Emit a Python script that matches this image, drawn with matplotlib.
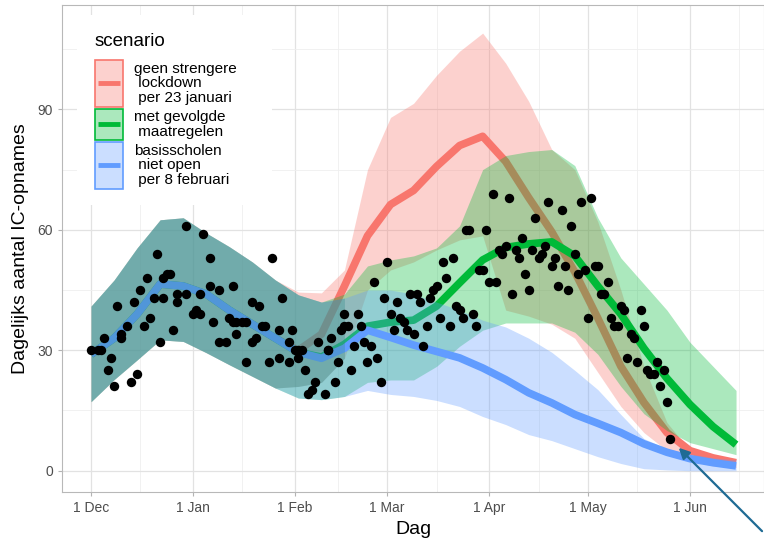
import numpy as np
import matplotlib
matplotlib.use("Agg")
import matplotlib.pyplot as plt
from matplotlib.patches import Rectangle
from matplotlib.lines import Line2D
from matplotlib.colors import to_rgba

plt.rcParams['font.family'] = ['Liberation Sans', 'DejaVu Sans']

start = np.datetime64('2020-12-01')

# waargenomen IC-opnames (dag na 1 december, aantal)
obs_day = [0, 2, 3, 4, 5, 6, 7, 8, 9, 9, 11, 12, 13, 14, 15, 16, 17, 18, 19, 20,
           21, 22, 22, 23, 24, 25, 26, 26, 29, 29, 31, 32, 33, 33, 34, 36, 36, 37, 39, 39,
           41, 42, 43, 43, 44, 44, 46, 47, 47, 49, 49, 50, 51, 52, 53, 54, 55, 57, 57, 58,
           60, 60, 61, 62, 63, 63, 64, 65, 66, 67, 68, 69, 71, 72, 72, 73, 74, 75, 76, 77,
           77, 78, 79, 80, 81, 82, 83, 84, 85, 86, 87, 88, 89, 90, 91, 92, 93, 94, 95, 96,
           97, 98, 99, 100, 101, 102, 103, 104, 105, 106, 107, 108, 109, 110, 111, 112, 113, 114, 115, 116,
           117, 118, 119, 120, 121, 122, 123, 124, 125, 126, 127, 128, 129, 130, 131, 132, 133, 134, 135, 136,
           137, 138, 139, 140, 141, 142, 143, 144, 145, 146, 147, 148, 149, 150, 151, 152, 153, 154, 155, 156,
           157, 158, 159, 160, 161, 162, 163, 164, 165, 166, 167, 168, 169, 170, 171, 172, 173, 174, 175, 176]
obs_val = [30, 30, 30, 33, 25, 28, 21, 41, 33, 34, 36, 22, 42, 24, 45, 36, 48, 38, 43, 54,
           32, 43, 48, 49, 49, 35, 42, 44, 61, 44, 39, 40, 39, 44, 59, 53, 46, 37, 45, 32,
           32, 38, 46, 37, 34, 37, 37, 27, 37, 42, 32, 33, 41, 36, 36, 27, 53, 35, 28, 43,
           27, 32, 35, 30, 28, 30, 30, 25, 19, 20, 22, 32, 19, 30, 30, 33, 22, 27, 35, 39,
           36, 36, 25, 31, 39, 36, 32, 27, 31, 47, 28, 22, 43, 52, 39, 35, 42, 38, 37, 35,
           44, 34, 44, 42, 31, 36, 43, 45, 46, 38, 52, 48, 36, 53, 41, 40, 38, 60, 60, 39,
           36, 50, 50, 60, 47, 69, 47, 55, 54, 56, 68, 44, 55, 53, 58, 49, 45, 55, 63, 53,
           54, 56, 67, 51, 53, 46, 65, 51, 45, 61, 54, 49, 67, 50, 38, 68, 51, 51, 44, 44,
           47, 38, 36, 36, 41, 40, 28, 34, 33, 27, 40, 36, 25, 24, 24, 27, 21, 25, 17, 8]

model_day = [0, 7, 14, 21, 28, 35, 42, 49, 56, 63, 70, 77, 84, 91, 98, 105, 112, 119, 126,
             133, 140, 147, 154, 161, 168, 175, 182, 189, 196]

# tot begin februari is het verloop voor alle scenario's gelijk
common_mid = [29, 33, 39, 46.5, 46, 44, 40, 36.5, 33]
common_lo = [17.2, 22.7, 27.6, 32.6, 32.2, 29.4, 26.4, 23.5, 20.6]
common_hi = [41, 47.5, 55.5, 62.5, 63, 59.2, 55.8, 52, 47.5]

red_mid = [30, 34, 46, 58.5, 66.3, 69.8, 75.8, 81, 83.3, 77, 68, 59.5, 49.5, 38, 26, 17, 9.5, 5, 3.2, 2]
red_lo = [21, 22, 28, 45, 50, 52, 55, 57.5, 58.5, 40, 38.5, 36.5, 33, 24.5, 16, 9.5, 5, 2.5, 1.2, 0.8]
red_hi = [44.5, 44.3, 50, 75, 88, 91.5, 98.5, 104.5, 109, 101.5, 92, 80, 75, 62, 45, 26, 12, 5, 3, 2]

green_mid = [29.5, 28.3, 31.5, 36, 37, 37.5, 41, 46.8, 52.5, 55.6, 56.5, 57, 53.5, 46, 39, 30.5, 23, 16.5, 11, 6.5]
green_lo = [18.1, 17.7, 18.5, 22, 22.6, 22.6, 26, 31, 35, 36.8, 36.8, 36.8, 34.5, 29, 21, 14.2, 10, 7, 5.5, 4]
green_hi = [43.8, 42, 44, 51, 52.5, 53.5, 55.5, 61, 75, 78.5, 79.5, 80, 76, 63, 53, 46.5, 40, 32, 26, 20]

blue_mid = [29.5, 28, 30.5, 35, 33.2, 31.3, 29.7, 28.1, 25.6, 22.7, 19.4, 16.9, 14, 11.8, 9.5, 6.7, 4.6, 3, 2, 1.2]
blue_lo = [18.1, 17.7, 18.5, 20, 19, 18.5, 17.5, 16, 13.5, 11.5, 9, 7.5, 5.5, 3.5, 1.8, 0.5, 0.2, 0, 0, 0]
blue_hi = [43.8, 42, 43, 45, 45, 44, 42, 40, 37.5, 35.8, 33, 29.5, 25, 20.2, 14, 8, 5.5, 4.2, 3.2, 2.7]

scenario_labels = ["geen strengere\n lockdown\n per 23 januari",
                   "met gevolgde\n maatregelen",
                   "basisscholen\n niet open\n per 8 februari"]
scenario_colors = ["#F8766D", "#00BA38", "#619CFF"]

tick_dates = ['2020-12-01', '2021-01-01', '2021-02-01', '2021-03-01', '2021-04-01', '2021-05-01', '2021-06-01']
tick_labels = ['1 Dec', '1 Jan', '1 Feb', '1 Mar', '1 Apr', '1 May', '1 Jun']
minor_dates = ['2020-12-16', '2021-01-16', '2021-02-14', '2021-03-16', '2021-04-16', '2021-05-16', '2021-06-16']

W, H = 764, 544


def to_dates(days):
    return start + np.array(days, dtype='timedelta64[D]')


def fxy(x, y):
    # pixelpositie -> figuurcoordinaten
    return x / W, 1 - y / H


fig = plt.figure(figsize=(W / 100, H / 100), dpi=100)
ax = fig.add_axes([62 / W, 52 / H, 702 / W, 487 / H])

x_model = to_dates(model_day)
scen = [(red_mid, red_lo, red_hi), (green_mid, green_lo, green_hi), (blue_mid, blue_lo, blue_hi)]
los, his = [], []
z = 1
for (mid, lo, hi), col in zip(scen, scenario_colors):
    los.append(common_lo + lo)
    his.append(common_hi + hi)
    ax.fill_between(x_model, los[-1], his[-1], color=col, alpha=0.33, lw=0, zorder=z)
    ax.plot(x_model, common_mid + mid, color=col, lw=5.5, solid_capstyle='butt', zorder=z + 1)
    z += 2

# waar alle drie de banden overlappen (fitperiode) is het vlak donkerder
ov_lo = np.maximum.reduce(los)
ov_hi = np.minimum.reduce(his)
ax.fill_between(x_model, ov_lo, ov_hi, where=(np.array(model_day) <= 84) & (ov_hi > ov_lo),
                color='#308C89', alpha=0.32, lw=0, zorder=z)

ax.scatter(to_dates(obs_day), obs_val, s=46, color='black', lw=0, zorder=z + 1)

# assen in ggplot theme_light stijl
ax.set_xlim(start - np.timedelta64(212, 'h'), start + np.timedelta64(4908, 'h'))
ax.set_ylim(-5.3, 116)
ax.set_xticks(np.array(tick_dates, dtype='datetime64[D]'))
ax.set_xticklabels(tick_labels)
ax.set_xticks(np.array(minor_dates, dtype='datetime64[D]'), minor=True)
ax.set_yticks([0, 30, 60, 90])
ax.set_yticks([15, 45, 75, 105], minor=True)
ax.grid(True, which='major', color='#e2e2e2', lw=0.9, zorder=0)
ax.grid(True, which='minor', color='#efefef', lw=0.6, zorder=0)
ax.set_axisbelow(True)
for s in ax.spines.values():
    s.set_color('#b8b8b8')
    s.set_linewidth(0.8)
ax.tick_params(which='major', length=3, color='#b3b3b3', labelsize=10, labelcolor='#4d4d4d')
ax.tick_params(which='minor', length=0)
ax.set_xlabel('Dag', fontsize=14, labelpad=4)
ax.set_ylabel('Dagelijks aantal IC-opnames', fontsize=14, labelpad=6)

# legenda zoals ggplot: wit vlak, gevulde sleutels met lijn
fig.add_artist(Rectangle(fxy(77, 205), 195 / W, 190 / H, transform=fig.transFigure,
                         facecolor='white', edgecolor='none', zorder=6))
fig.text(*fxy(95, 42), 'scenario', fontsize=13.5, va='center', ha='left', zorder=7)
top = 60
for lab, col in zip(scenario_labels, scenario_colors):
    n = lab.count('\n') + 1
    h = n * 15.6
    fig.add_artist(Rectangle(fxy(95, top + h), 28 / W, h / H, transform=fig.transFigure,
                             facecolor=to_rgba(col, 0.33), edgecolor=col, lw=1.2, zorder=7))
    yc = top + h / 2
    fig.add_artist(Line2D([98 / W, 120 / W], [1 - yc / H] * 2, transform=fig.transFigure,
                          color=col, lw=3.5, solid_capstyle='butt', zorder=8))
    fig.text(*fxy(134, yc), lab, fontsize=11, va='center', ha='left',
             linespacing=1.05, zorder=7)
    top += h + 2

# pijl die naar de laatste waarneming wijst
ax.annotate('', xy=(to_dates([178])[0], 6.2), xytext=(1.0, 0.02),
            textcoords='figure fraction', annotation_clip=False,
            arrowprops=dict(arrowstyle='-|>', color='#1f6b94', lw=1.6, mutation_scale=16),
            zorder=z + 2)

fig.savefig('out.png', dpi=100)
